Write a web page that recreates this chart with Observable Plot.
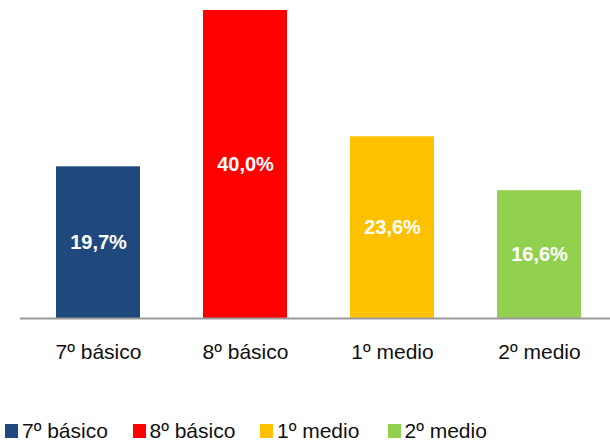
<!DOCTYPE html>
<html>
<head>
<meta charset="utf-8">
<script src="https://cdn.jsdelivr.net/npm/d3@7"></script>
<script src="https://cdn.jsdelivr.net/npm/@observablehq/plot@0.6"></script>
<style>
  html, body { margin: 0; padding: 0; background: #fff; }
  body { width: 610px; height: 443px; overflow: hidden; font-family: "Liberation Sans", Arial, sans-serif; }
  #legend { position: absolute; left: 5px; top: 419px; display: flex; }
  .item { width: 127.5px; display: flex; align-items: center; font-size: 21px; color: #111; white-space: nowrap; }
  .sw { width: 13px; height: 14px; margin-right: 4px; flex: none; }
</style>
</head>
<body>
<div id="chart"></div>
<div id="legend"></div>
<script>
const categories = ["7º básico", "8º básico", "1º medio", "2º medio"];
const values = [19.7, 40.0, 23.6, 16.6];
const colors = ["#1F497D", "#FF0000", "#FFC000", "#92D050"];
const labels = ["19,7%", "40,0%", "23,6%", "16,6%"];

const data = categories.map((c, i) => ({category: c, value: values[i], label: labels[i], color: colors[i]}));

const chart = Plot.plot({
  width: 610,
  height: 400,
  marginTop: 10,
  marginBottom: 82,
  marginLeft: 20,
  marginRight: 0,
  x: {domain: categories, range: [55, 583], paddingInner: 0.4257, paddingOuter: 0, label: null},
  y: {domain: [0, 40], axis: null},
  style: {fontFamily: "'Liberation Sans', Arial, sans-serif", background: "#fff"},
  marks: [
    Plot.barY(data, {x: "category", y: "value", fill: "color"}),
    Plot.ruleY([0], {stroke: "#9a9a9a", strokeWidth: 2}),
    Plot.axisX({tickSize: 0, tickPadding: 26, fontSize: 21, fill: "#111", label: null}),
    Plot.text(data, {x: "category", y: d => d.value / 2, text: "label", fill: "white", fontWeight: "bold", fontSize: 20})
  ]
});
document.getElementById("chart").appendChild(chart);

const legend = document.getElementById("legend");
categories.forEach((c, i) => {
  const item = document.createElement("div");
  item.className = "item";
  const sw = document.createElement("span");
  sw.className = "sw";
  sw.style.background = colors[i];
  item.appendChild(sw);
  item.appendChild(document.createTextNode(c));
  legend.appendChild(item);
});
</script>
</body>
</html>
